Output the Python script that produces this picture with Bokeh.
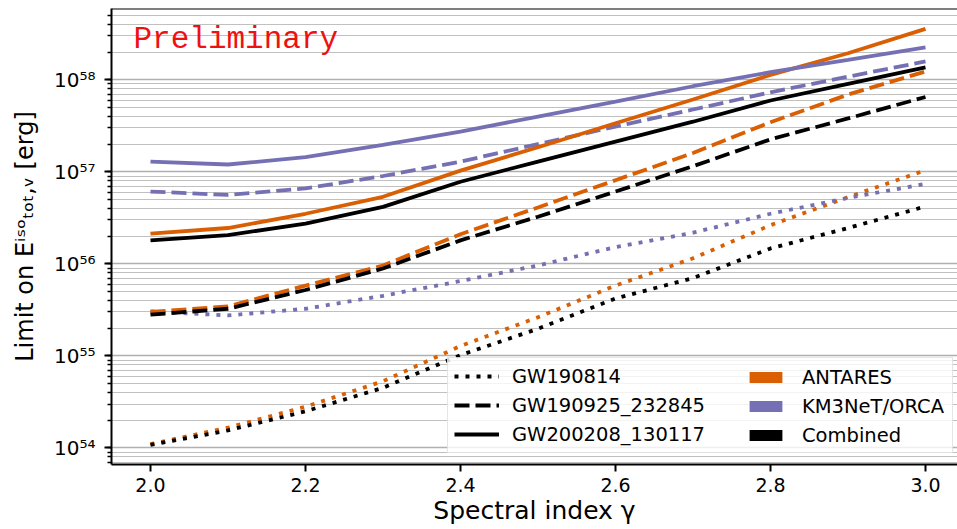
from bokeh.plotting import figure
from bokeh.models import (Range1d, LogTicker, FixedTicker, CustomJSTickFormatter,
                          Legend, LegendItem, Label, Span)
from bokeh.embed import file_html
from bokeh.resources import INLINE

# ---------------- data ----------------
gamma = [2.0, 2.1, 2.2, 2.3, 2.4, 2.5, 2.6, 2.7, 2.8, 2.9, 3.0]
x_ticks = [2.0, 2.2, 2.4, 2.6, 2.8, 3.0]
x_tick_labels = ["2.0", "2.2", "2.4", "2.6", "2.8", "3.0"]

events = ["GW190814", "GW190925_232845", "GW200208_130117"]
detectors = ["ANTARES", "KM3NeT/ORCA", "Combined"]

# GW190814 (dotted)
antares_gw190814 = [1.10e54, 1.66e54, 2.8e54, 5.3e54, 1.28e55, 2.63e55, 5.8e55, 1.15e56, 2.63e56, 5.3e56, 1.04e57]
orca_gw190814 = [3.05e55, 2.75e55, 3.25e55, 4.5e55, 6.5e55, 9.6e55, 1.52e56, 2.18e56, 3.5e56, 5.2e56, 7.4e56]
combined_gw190814 = [1.08e54, 1.55e54, 2.5e54, 4.5e54, 1.02e55, 1.97e55, 4.2e55, 7.0e55, 1.47e56, 2.45e56, 4.2e56]

# GW190925_232845 (dashed)
antares_gw190925 = [3.0e55, 3.45e55, 5.8e55, 9.6e55, 2.1e56, 4.1e56, 8.1e56, 1.6e57, 3.45e57, 6.9e57, 1.23e58]
orca_gw190925 = [6.1e56, 5.6e56, 6.6e56, 9.0e56, 1.29e57, 2.0e57, 3.1e57, 4.75e57, 7.3e57, 1.08e58, 1.58e58]
combined_gw190925 = [2.8e55, 3.25e55, 5.2e55, 8.9e55, 1.8e56, 3.25e56, 6.1e56, 1.15e57, 2.25e57, 3.8e57, 6.5e57]

# GW200208_130117 (solid)
antares_gw200208 = [2.13e56, 2.45e56, 3.5e56, 5.35e56, 1.03e57, 1.85e57, 3.37e57, 6.1e57, 1.13e58, 1.94e58, 3.57e58]
orca_gw200208 = [1.29e57, 1.2e57, 1.44e57, 1.96e57, 2.73e57, 3.98e57, 5.8e57, 8.5e57, 1.21e58, 1.64e58, 2.25e58]
combined_gw200208 = [1.8e56, 2.05e56, 2.74e56, 4.16e56, 7.8e56, 1.29e57, 2.13e57, 3.5e57, 5.95e57, 9.0e57, 1.36e58]

x_label = "Spectral index \u03b3"
y_label = "Limit on E\u2071\u02e2\u1d52\u209c\u2092\u209c,\u1d65 [erg]"
watermark = "Preliminary"

# ---------------- style ----------------
colors = {"ANTARES": "#d95f02", "KM3NeT/ORCA": "#7570b3", "Combined": "#000000"}
dashes = {"GW190814": "4 7", "GW190925_232845": "15 6", "GW200208_130117": "solid"}
LW = 3.8
FONT = "DejaVu Sans"

series = [
    ("GW190814", "ANTARES", antares_gw190814),
    ("GW190814", "KM3NeT/ORCA", orca_gw190814),
    ("GW190814", "Combined", combined_gw190814),
    ("GW190925_232845", "ANTARES", antares_gw190925),
    ("GW190925_232845", "KM3NeT/ORCA", orca_gw190925),
    ("GW190925_232845", "Combined", combined_gw190925),
    ("GW200208_130117", "ANTARES", antares_gw200208),
    ("GW200208_130117", "KM3NeT/ORCA", orca_gw200208),
    ("GW200208_130117", "Combined", combined_gw200208),
]

Y_END = 10 ** 58.774
p = figure(width=957, height=529, y_axis_type="log",
           x_range=Range1d(1.9497, 3.0413), y_range=Range1d(10 ** 53.82, Y_END),
           output_backend="svg", toolbar_location=None,
           min_border_left=111, min_border_right=0, min_border_top=8, min_border_bottom=65)
p.background_fill_color = "white"
p.border_fill_color = "white"
p.outline_line_color = None

renderers = {}
for ev, det, vals in series:
    renderers[(ev, det)] = p.line(gamma, vals, line_color=colors[det], line_width=LW,
                                  line_dash=dashes[ev])

# frame top spine
p.add_layout(Span(location=Y_END, dimension="width", line_color="black", line_width=2))

# ---------------- axes ----------------
xa = p.xaxis[0]
xa.ticker = FixedTicker(ticks=x_ticks)
xa.formatter = CustomJSTickFormatter(args=dict(tk=x_ticks, lb=x_tick_labels), code="""
    let best = 0;
    for (let i = 0; i < tk.length; i++) {
        if (Math.abs(tk[i] - tick) < Math.abs(tk[best] - tick)) best = i;
    }
    return lb[best];
""")
xa.axis_line_width = 2
xa.major_tick_line_width = 2
xa.major_tick_out = 7
xa.major_tick_in = 0
xa.minor_tick_line_color = None
xa.major_label_text_font = FONT
xa.major_label_text_font_size = "19px"
xa.major_label_text_color = "black"
xa.major_label_standoff = 6
xa.axis_label = x_label
xa.axis_label_text_font = FONT
xa.axis_label_text_font_size = "25px"
xa.axis_label_text_font_style = "normal"
xa.axis_label_text_color = "black"
xa.axis_label_standoff = 1

ya = p.yaxis[0]
ya.ticker = LogTicker(num_minor_ticks=10)
ya.formatter = CustomJSTickFormatter(code="""
    const sup = {"0":"\u2070","1":"\u00b9","2":"\u00b2","3":"\u00b3","4":"\u2074",
                 "5":"\u2075","6":"\u2076","7":"\u2077","8":"\u2078","9":"\u2079","-":"\u207b"};
    const e = Math.round(Math.log10(tick));
    return "10" + String(e).split("").map(c => sup[c]).join("");
""")
ya.axis_line_width = 2
ya.major_tick_line_width = 2
ya.minor_tick_line_width = 1.5
ya.major_tick_out = 7
ya.major_tick_in = 0
ya.minor_tick_out = 4
ya.minor_tick_in = 0
ya.major_label_text_font = FONT
ya.major_label_text_font_size = "20px"
ya.major_label_text_color = "black"
ya.major_label_standoff = 9
ya.axis_label = y_label
ya.axis_label_text_font = FONT
ya.axis_label_text_font_size = "24px"
ya.axis_label_text_font_style = "normal"
ya.axis_label_text_color = "black"
ya.axis_label_standoff = 12

p.xgrid.grid_line_color = None
p.ygrid.grid_line_color = "#b0b0b0"
p.ygrid.grid_line_width = 1.3
p.ygrid.minor_grid_line_color = "#c0c0c0"
p.ygrid.minor_grid_line_width = 1

# Preliminary
p.add_layout(Label(x=22, y=425, x_units="screen", y_units="screen", text=watermark,
                   text_font="Liberation Mono", text_font_size="31px", text_color="#ee1111",
                   text_baseline="alphabetic", text_align="left"))

# ---------------- legends ----------------
leg_kw = dict(label_text_font=FONT, label_text_font_size="19.5px", label_text_color="black",
              label_height=24, glyph_height=14, spacing=5, padding=6, margin=0)

style_items = [LegendItem(label=ev, renderers=[renderers[(ev, "Combined")]]) for ev in events]
leg1 = Legend(items=style_items, location=(336, 11), glyph_width=45, label_standoff=13,
              label_width=434, background_fill_color="white", background_fill_alpha=0.8,
              border_line_color="#cccccc", border_line_width=1, **leg_kw)
p.add_layout(leg1)

# zero-height areas along the solid curves, used only as legend colour patches
det_items = []
det_series = {"ANTARES": antares_gw200208, "KM3NeT/ORCA": orca_gw200208, "Combined": combined_gw200208}
for det in detectors:
    r = p.varea(x=gamma, y1=det_series[det], y2=det_series[det], fill_color=colors[det])
    det_items.append(LegendItem(label=det, renderers=[r]))
leg2 = Legend(items=det_items, location=(628, 11), glyph_width=41, label_standoff=16,
              background_fill_alpha=0, border_line_alpha=0, **leg_kw)
p.add_layout(leg2)

open("out.html", "w").write(file_html(p, INLINE))
